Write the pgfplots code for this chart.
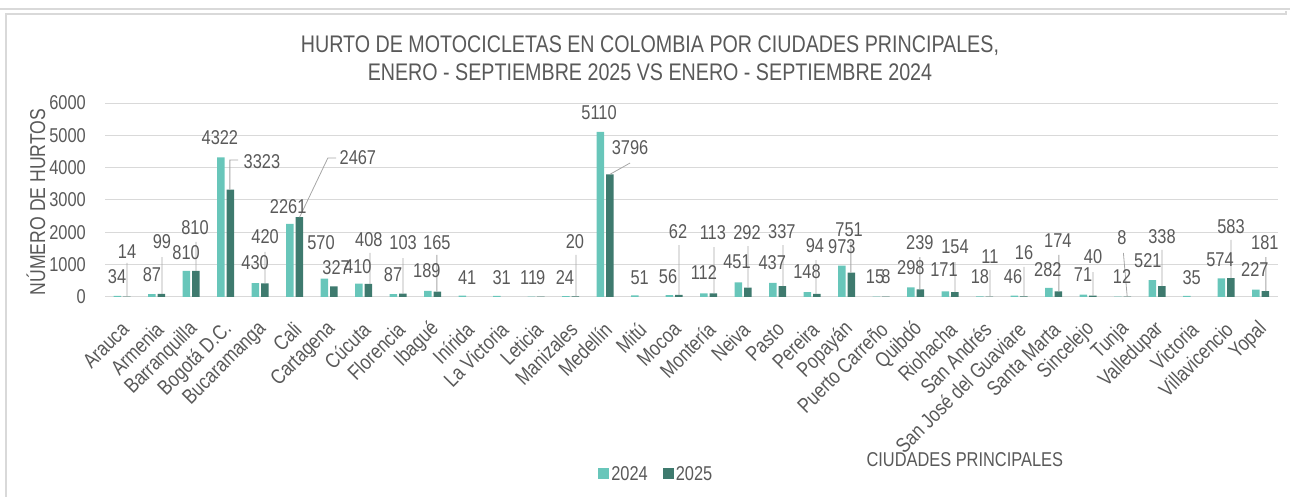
\documentclass[border=0pt]{standalone}
\usepackage{pgfplots}
\pgfplotsset{compat=1.18}
\usepackage{pgfplotstable}
\usepackage{fontspec}
\setmainfont{Liberation Sans}[FakeStretch=0.82]
\definecolor{cA}{RGB}{104,198,186}
\definecolor{cB}{RGB}{62,122,110}
\definecolor{txt}{RGB}{89,89,89}
\definecolor{grd}{RGB}{217,217,217}
\definecolor{ldr}{RGB}{166,166,166}

\pgfplotstableread{
i a b
0 34 14
1 87 99
2 810 810
3 4322 3323
4 430 420
5 2261 2467
6 570 327
7 410 408
8 87 103
9 189 165
10 41 nan
11 31 nan
12 11 9
13 24 20
14 5110 3796
15 51 nan
16 56 62
17 112 113
18 451 292
19 437 337
20 148 94
21 973 751
22 15 8
23 298 239
24 171 154
25 18 11
26 46 16
27 282 174
28 71 40
29 12 8
30 521 338
31 35 nan
32 574 583
33 227 181
}\datatable

\pgfplotstableread{
x y t
-0.15 619 34
0.14 1392 14
0.86 680 87
1.15 1701 99
1.85 1361 810
2.11 2134 810
2.83 4918 4322
4.05 4175 3323
3.85 1052 430
4.14 1856 420
4.81 2784 2261
6.83 4299 2467
5.76 1670 570
6.20 897 327
6.83 928 410
7.15 1763 408
7.85 680 87
8.14 1670 103
8.83 804 189
9.12 1670 165
10.0 588 41
11.0 588 31
11.78 588 11
12.13 588 9
12.83 588 24
13.12 1701 20
13.82 5691 5110
14.72 4608 3796
15.0 588 51
15.82 619 56
16.11 2010 62
16.86 742 112
17.12 1979 113
17.82 1082 451
18.11 1979 292
18.84 1052 437
19.12 2010 337
19.85 773 148
20.08 1577 94
20.86 1546 973
21.07 2072 751
21.82 619 15
22.14 619 8
22.86 897 298
23.12 1670 239
23.82 835 171
24.14 1546 154
24.86 619 18
25.15 1237 11
25.82 619 46
26.14 1361 16
26.83 835 282
27.12 1732 174
27.85 680 71
28.14 1237 40
28.98 619 12
28.98 1825 8
29.73 1113 521
30.14 1856 338
31.0 588 35
31.82 1144 574
32.14 2165 583
32.83 835 227
33.12 1670 181
}\labeltable

\pgfplotstableread{
x y
0.14 14
0.14 1052
nan nan
1.15 99
1.15 1237
nan nan
2.14 810
2.14 1701
nan nan
3.12 3323
3.12 4237
3.36 4237
nan nan
4.14 420
4.14 1392
nan nan
5.14 2467
5.96 4299
6.20 4299
nan nan
7.18 408
7.18 1361
nan nan
8.14 103
8.14 1206
nan nan
9.12 165
9.12 1299
nan nan
13.15 20
13.15 1299
nan nan
14.14 3796
14.72 4144
nan nan
16.14 62
16.14 1608
nan nan
17.15 113
17.15 1546
nan nan
18.14 292
18.14 1577
nan nan
19.15 337
19.15 1608
nan nan
20.11 94
20.11 1144
nan nan
21.12 751
21.12 1701
nan nan
23.12 239
23.12 1237
nan nan
24.14 154
24.14 1082
nan nan
25.15 11
25.15 835
nan nan
26.14 16
26.14 928
nan nan
27.15 174
27.15 1299
nan nan
28.14 40
28.14 773
nan nan
29.13 8
29.02 1361
nan nan
30.14 338
30.14 1454
nan nan
32.14 583
32.14 1763
nan nan
33.15 181
33.15 1237
}\leadertable

\begin{document}
\begin{tikzpicture}[x=1pt,y=1pt]
\path[use as bounding box] (0,0) rectangle (1290,497);
\draw[grd, line width=1.5pt] (0,488) -- (1290,488);
\draw[grd, line width=1.5pt] (6,0) -- (6,483) -- (1286,483) -- (1286,486);
\begin{axis}[
  at={(105pt,200pt)}, anchor=south west,
  scale only axis, width=1173pt, height=194pt,
  xmin=-0.5, xmax=33.5, ymin=0, ymax=6000,
  axis x line*=bottom, axis y line*=left,
  x axis line style={draw=grd, line width=1pt},
  y axis line style={draw=none},
  major tick length=0pt,
  ytick={0,1000,...,6000},
  ymajorgrids, grid style={draw=grd, line width=1pt},
  xtick={0,...,33},
  xticklabels={Arauca,Armenia,Barranquilla,Bogotá D.C.,Bucaramanga,Cali,Cartagena,Cúcuta,Florencia,Ibagué,Inírida,La Victoria,Leticia,Manizales,Medellín,Mitú,Mocoa,Montería,Neiva,Pasto,Pereira,Popayán,Puerto Carreño,Quibdó,Riohacha,San Andrés,San José del Guaviare,Santa Marta,Sincelejo,Tunja,Valledupar,Victoria,Villavicencio,Yopal},
  xticklabel style={rotate=45, anchor=east, xshift=-18.4pt, yshift=-22.6pt, font=\fontsize{21}{25}\selectfont, text=txt, inner sep=0pt},
  yticklabel style={font=\fontsize{20}{24}\selectfont, text=txt, anchor=east, xshift=-19pt, inner sep=0pt},
  /pgf/number format/assume math mode=true,
  scaled y ticks=false,
  y tick label style={/pgf/number format/1000 sep={}},
  ylabel={NÚMERO DE HURTOS},
  every axis y label/.style={at={(axis description cs:-0.0588,0.49)}, rotate=90, anchor=center, font=\fontsize{21.5}{25}\selectfont, text=txt},
  xlabel={CIUDADES PRINCIPALES},
  every axis x label/.style={at={(axis description cs:0.733,-0.840)}, anchor=center, font=\fontsize{20}{24}\selectfont, text=txt},
  title={HURTO DE MOTOCICLETAS EN COLOMBIA POR CIUDADES PRINCIPALES,\\ENERO - SEPTIEMBRE 2025 VS ENERO - SEPTIEMBRE 2024},
  every axis title/.style={at={(axis description cs:0.4646,1.232)}, anchor=center, align=center, font=\fontsize{24}{28}\selectfont, text=txt},
  legend columns=2,
  legend style={draw=none, fill=none, at={(axis description cs:0.470,-0.912)}, anchor=center, font=\fontsize{20}{24}\selectfont, text=txt,
    /tikz/every even column/.append style={column sep=13pt}, nodes={inner sep=2pt}},
  unbounded coords=jump,
  clip=false,
]
\addplot[ybar, bar width=7.5pt, bar shift=-4.75pt, fill=cA, draw=none,
  legend image code/.code={\fill[cA] (0pt,-5.5pt) rectangle (11pt,5.5pt);}]
  table[x=i, y=a] {\datatable};
\addlegendentry{2024}
\addplot[ybar, bar width=7.5pt, bar shift=4.75pt, fill=cB, draw=none,
  legend image code/.code={\fill[cB] (0pt,-5.5pt) rectangle (11pt,5.5pt);}]
  table[x=i, y=b] {\datatable};
\addlegendentry{2025}
\addplot[ldr, line width=0.8pt, mark=none, forget plot] table[x=x, y=y] {\leadertable};
\addplot[draw=none, mark=none, forget plot,
  nodes near coords, point meta=explicit symbolic,
  nodes near coords style={anchor=center, inner sep=0pt, font=\fontsize{20}{24}\selectfont, text=txt}]
  table[x=x, y=y, meta=t] {\labeltable};
\end{axis}
\end{tikzpicture}
\end{document}
